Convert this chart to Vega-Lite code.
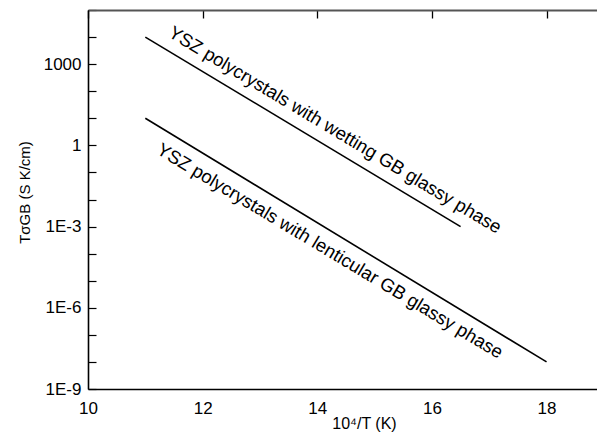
{
  "$schema": "https://vega.github.io/schema/vega-lite/v6.json",
  "width": 509,
  "height": 379,
  "autosize": {"type": "none"},
  "padding": {"left": 88, "top": 10, "right": 0, "bottom": 47},
  "background": "white",
  "config": {
    "view": {"stroke": null},
    "font": "Liberation Sans",
    "axis": {
      "labelFont": "Liberation Sans",
      "titleFont": "Liberation Sans",
      "labelColor": "black",
      "titleColor": "black",
      "domainColor": "black",
      "ticks": false,
      "grid": true,
      "gridColor": "black",
      "gridOpacity": 1,
      "labelFontSize": 17,
      "titleFontSize": 16,
      "titleFontWeight": "normal",
      "labelFlush": false,
      "labelOverlap": false,
      "labelBound": false
    }
  },
  "datasets": {
    "lines": [
      {"series": "wetting", "x": 11, "y": 10000},
      {"series": "wetting", "x": 16.5, "y": 0.001},
      {"series": "lenticular", "x": 11, "y": 10},
      {"series": "lenticular", "x": 18, "y": 1e-8}
    ],
    "labels": [
      {"label": "YSZ polycrystals with wetting GB glassy phase", "x": 14.31, "y": 3.7},
      {"label": "YSZ polycrystals with lenticular GB glassy phase", "x": 14.22, "y": 0.000126}
    ]
  },
  "resolve": {"axis": {"x": "independent", "y": "independent"}},
  "layer": [
    {
      "data": {"name": "lines"},
      "mark": {"type": "line", "color": "black", "strokeWidth": 1.6},
      "encoding": {
        "x": {
          "field": "x", "type": "quantitative",
          "scale": {"domain": [10, 18.88], "nice": false, "zero": false},
          "axis": {
            "orient": "bottom",
            "values": [10, 12, 14, 16, 18],
            "gridDash": [8, 1000],
            "gridWidth": 1.3,
            "domainWidth": 1.6,
            "labelPadding": 11,
            "title": "10⁴/T (K)",
            "titleX": 276,
            "titleY": 39,
            "titleBaseline": "alphabetic",
            "titleAlign": "center"
          }
        },
        "y": {
          "field": "y", "type": "quantitative",
          "scale": {"type": "log", "domain": [1e-9, 100000], "nice": false},
          "axis": {
            "orient": "left",
            "values": [1e-9, 1e-8, 1e-7, 1e-6, 1e-5, 1e-4, 1e-3, 0.01, 0.1, 1, 10, 100, 1000, 10000, 100000],
            "labelExpr": "(round(log(datum.value)/LN10) % 3 == 0 && datum.value < 10000) ? (datum.value >= 1 ? format(datum.value, 'd') : '1E' + round(log(datum.value)/LN10)) : ''",
            "gridDash": [8, 1000],
            "gridWidth": 1.2,
            "domainWidth": 1.6,
            "labelPadding": 7,
            "title": "TσGB (S K/cm)",
            "titleFontSize": 15,
            "titleAngle": -90,
            "titleX": -59,
            "titleY": 182,
            "titleAlign": "center",
            "titleBaseline": "alphabetic"
          }
        },
        "detail": {"field": "series"}
      }
    },
    {
      "data": {"name": "labels"},
      "mark": {"type": "text", "angle": 31, "fontSize": 18.5, "font": "Liberation Sans", "color": "black", "align": "center", "baseline": "middle"},
      "encoding": {
        "x": {
          "field": "x", "type": "quantitative",
          "axis": {
            "orient": "top",
            "values": [10, 12, 14, 16, 18],
            "labels": false,
            "title": null,
            "gridDash": [8, 1000],
            "gridWidth": 1.3,
            "gridColor": "#333",
            "domainColor": "#555",
            "domainWidth": 2
          }
        },
        "y": {
          "field": "y", "type": "quantitative",
          "axis": {
            "orient": "right",
            "values": [1e-9, 1e-8, 1e-7, 1e-6, 1e-5, 1e-4, 1e-3, 0.01, 0.1, 1, 10, 100, 1000, 10000, 100000],
            "labels": false,
            "title": null,
            "domain": false,
            "gridDash": [3, 1000],
            "gridWidth": 1.2,
            "gridColor": "#999"
          }
        },
        "text": {"field": "label"}
      }
    },
    {
      "data": {"name": "lines"},
      "mark": {"type": "line", "strokeOpacity": 0},
      "encoding": {
        "x": {
          "field": "x", "type": "quantitative",
          "axis": {
            "orient": "bottom",
            "values": [11, 13, 15, 17],
            "labels": false,
            "title": null,
            "domain": false,
            "gridDash": [5, 1000],
            "gridWidth": 1.1
          }
        },
        "y": {
          "field": "y", "type": "quantitative",
          "axis": {
            "orient": "left",
            "values": [2e-9, 3e-9, 4e-9, 5e-9, 6e-9, 7e-9, 8e-9, 9e-9,
                       2e-8, 3e-8, 4e-8, 5e-8, 6e-8, 7e-8, 8e-8, 9e-8,
                       2e-7, 3e-7, 4e-7, 5e-7, 6e-7, 7e-7, 8e-7, 9e-7,
                       2e-6, 3e-6, 4e-6, 5e-6, 6e-6, 7e-6, 8e-6, 9e-6,
                       2e-5, 3e-5, 4e-5, 5e-5, 6e-5, 7e-5, 8e-5, 9e-5,
                       2e-4, 3e-4, 4e-4, 5e-4, 6e-4, 7e-4, 8e-4, 9e-4,
                       2e-3, 3e-3, 4e-3, 5e-3, 6e-3, 7e-3, 8e-3, 9e-3,
                       0.02, 0.03, 0.04, 0.05, 0.06, 0.07, 0.08, 0.09,
                       0.2, 0.3, 0.4, 0.5, 0.6, 0.7, 0.8, 0.9,
                       2, 3, 4, 5, 6, 7, 8, 9,
                       20, 30, 40, 50, 60, 70, 80, 90,
                       200, 300, 400, 500, 600, 700, 800, 900,
                       2000, 3000, 4000, 5000, 6000, 7000, 8000, 9000,
                       20000, 30000, 40000, 50000, 60000, 70000, 80000, 90000],
            "labels": false,
            "title": null,
            "domain": false,
            "gridDash": [5, 1000],
            "gridWidth": 1
          }
        },
        "detail": {"field": "series"}
      }
    },
    {
      "data": {"name": "lines"},
      "mark": {"type": "line", "strokeOpacity": 0},
      "encoding": {
        "x": {
          "field": "x", "type": "quantitative",
          "axis": {
            "orient": "top",
            "values": [11, 13, 15, 17],
            "labels": false,
            "title": null,
            "domain": false,
            "gridDash": [5, 1000],
            "gridWidth": 1.1,
            "gridColor": "#333"
          }
        },
        "y": {"field": "y", "type": "quantitative", "axis": null},
        "detail": {"field": "series"}
      }
    }
  ]
}
